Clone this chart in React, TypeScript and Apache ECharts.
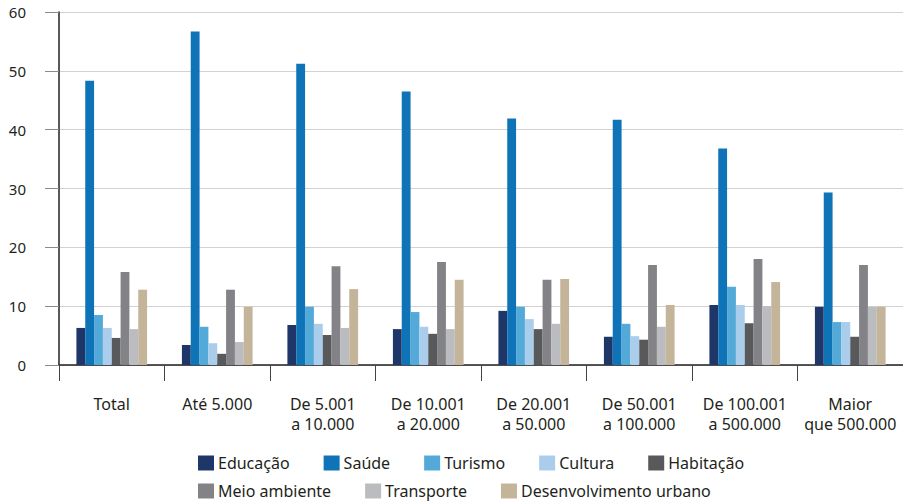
import React, { useEffect, useRef } from "react";
import * as echarts from "echarts";

// Faixas de tamanho da população dos municípios
const categories = [
  "Total",
  "Até 5.000",
  "De 5.001\na 10.000",
  "De 10.001\na 20.000",
  "De 20.001\na 50.000",
  "De 50.001\na 100.000",
  "De 100.001\na 500.000",
  "Maior\nque 500.000",
];

const educacao = [6.3, 3.4, 6.8, 6.1, 9.2, 4.8, 10.2, 9.9];
const saude = [48.3, 56.7, 51.2, 46.5, 41.9, 41.7, 36.8, 29.3];
const turismo = [8.5, 6.5, 9.9, 9.0, 9.9, 7.0, 13.3, 7.3];
const cultura = [6.3, 3.7, 7.0, 6.5, 7.8, 4.9, 10.2, 7.3];
const habitacao = [4.6, 1.9, 5.1, 5.3, 6.1, 4.3, 7.1, 4.8];
const meioAmbiente = [15.8, 12.8, 16.8, 17.5, 14.5, 17.0, 18.0, 17.0];
const transporte = [6.1, 3.9, 6.3, 6.1, 7.0, 6.5, 10.0, 9.9];
const desenvolvimentoUrbano = [12.8, 9.9, 12.9, 14.5, 14.6, 10.2, 14.1, 9.9];

const yTicks = { min: 0, max: 60, interval: 10 };

const seriesDefs = [
  { name: "Educação", data: educacao, color: "#1f3668" },
  { name: "Saúde", data: saude, color: "#0e73b7" },
  { name: "Turismo", data: turismo, color: "#53aad8" },
  { name: "Cultura", data: cultura, color: "#abcdec" },
  { name: "Habitação", data: habitacao, color: "#58595b" },
  { name: "Meio ambiente", data: meioAmbiente, color: "#838387" },
  { name: "Transporte", data: transporte, color: "#bbbcc0" },
  { name: "Desenvolvimento urbano", data: desenvolvimentoUrbano, color: "#c4b49a" },
];

const FONT = "'Noto Sans', sans-serif";
const TEXT_COLOR = "#231f20";

export default function App() {
  const ref = useRef<HTMLDivElement>(null);

  useEffect(() => {
    if (!ref.current) return;
    const chart = echarts.init(ref.current, undefined, { renderer: "svg" });

    const legendCommon = {
      left: 198,
      padding: 0,
      itemWidth: 16,
      itemHeight: 15,
      itemGap: 34,
      icon: "rect",
      textStyle: { fontFamily: FONT, fontSize: 16, color: TEXT_COLOR, padding: [0, 0, 0, -1] },
    };

    chart.setOption({
      animation: false,
      textStyle: { fontFamily: FONT },
      grid: { left: 59, right: 0, top: 12, bottom: 138, containLabel: false },
      legend: [
        { ...legendCommon, data: seriesDefs.slice(0, 5).map((s) => s.name), top: 455 },
        { ...legendCommon, data: seriesDefs.slice(5).map((s) => s.name), top: 483 },
      ],
      xAxis: {
        type: "category",
        data: categories,
        axisLine: { lineStyle: { color: "#231f20", width: 1.5 } },
        axisTick: { show: true, length: 16, lineStyle: { color: "#444" } },
        axisLabel: {
          interval: 0,
          margin: 29,
          fontFamily: FONT,
          fontSize: 16,
          lineHeight: 20,
          color: TEXT_COLOR,
        },
      },
      yAxis: {
        type: "value",
        min: yTicks.min,
        max: yTicks.max,
        interval: yTicks.interval,
        axisLine: { show: true, lineStyle: { color: "#231f20", width: 1.5 } },
        axisTick: { show: true, length: 14, lineStyle: { color: "#8a8a8a" } },
        axisLabel: {
          margin: 33,
          fontFamily: FONT,
          fontSize: 15,
          color: TEXT_COLOR,
        },
        splitLine: { lineStyle: { color: "#d2d2d2", width: 1.2 } },
      },
      series: seriesDefs.map((s) => ({
        name: s.name,
        type: "bar",
        data: s.data,
        barGap: "0%",
        barCategoryGap: "33%",
        itemStyle: { color: s.color },
      })),
    });

    return () => chart.dispose();
  }, []);

  return (
    <div
      ref={ref}
      style={{ position: "fixed", left: 0, top: 0, width: 903, height: 503, background: "#fff" }}
    />
  );
}
